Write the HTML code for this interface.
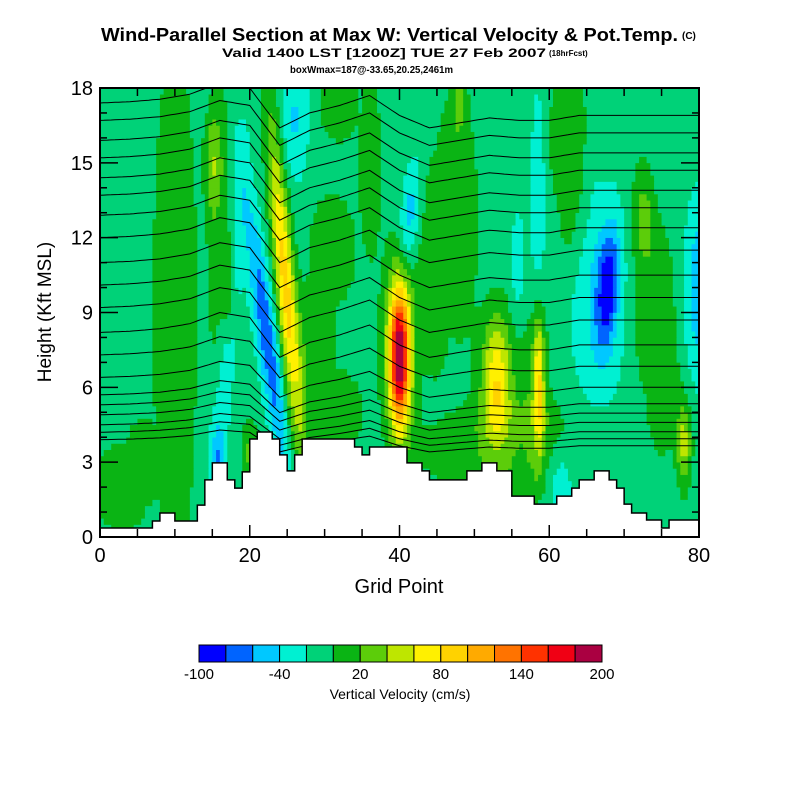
<!DOCTYPE html>
<html><head><meta charset="utf-8"><style>
body{margin:0;background:#fff;width:800px;height:800px;overflow:hidden;font-family:"Liberation Sans",sans-serif}
svg{position:absolute;left:0;top:0}
</style></head><body>
<svg id="chart" width="800" height="800" viewBox="0 0 800 800">
<text x="101" y="41" font-size="18" font-weight="bold" textLength="577" lengthAdjust="spacingAndGlyphs">Wind-Parallel Section at Max W: Vertical Velocity &amp; Pot.Temp.</text>
<text x="682" y="39" font-size="10" font-weight="bold">(C)</text>
<text x="222" y="57" font-size="12" font-weight="bold" textLength="324" lengthAdjust="spacingAndGlyphs">Valid 1400 LST [1200Z] TUE 27 Feb 2007</text>
<text x="549" y="56" font-size="8" font-weight="bold">(18hrFcst)</text>
<text x="290" y="73" font-size="10" font-weight="bold" textLength="163" lengthAdjust="spacingAndGlyphs">boxWmax=187@-33.65,20.25,2461m</text>
<g id="field"></g>
<g id="contours" fill="none" stroke="#000" stroke-width="1"></g>
<path id="terrain" fill="#fff" stroke="#000" stroke-width="1.5"/>
<g id="ticks" stroke="#000" stroke-width="1.5"></g>
<rect x="100" y="88" width="599" height="449" fill="none" stroke="#000" stroke-width="2"/>
<g id="xlabels" font-size="20" text-anchor="middle"></g>
<g id="ylabels" font-size="20" text-anchor="end"></g>
<text x="399" y="593" text-anchor="middle" font-size="20">Grid Point</text>
<text transform="translate(51,312) rotate(-90)" text-anchor="middle" font-size="19">Height (Kft MSL)</text>
<g id="cbar"></g>
<g id="cblabels" font-size="15" text-anchor="middle"></g>
<text x="400" y="699" text-anchor="middle" font-size="14">Vertical Velocity (cm/s)</text>
</svg>
<script>
// ---- data ----
const binColors=["#0000ff","#0064ff","#00c8ff","#00f0d2","#00d278","#0ab414","#5ccd0a","#bee600","#fff000","#ffd200","#ffaa00","#ff7300","#ff3200","#f00014","#aa0041"];
const binMin=-100, binStep=20;
const cbTicks=[-100,-40,20,80,140,200];
const xTicks=[0,20,40,60,80];
const yTicks=[0,3,6,9,12,15,18];
const baseW=-10;
// updraft-band background (flat-topped, combined by max): centers, widths
const gx =[10,3,16,31,32,31,47.5,55,62.5,74,36,45,63,75,29,6];
const gy =[9,2,12,11.5,17.5,5,13,3.5,16,9,15,11,14,7,8,3];
const gsx=[3.2,4,1.8,3.5,3,4.5,3.2,13,2.8,3.2,1.6,2.5,2.2,2.6,3,3];
const gsy=[12,2,7,2.5,1.8,2,5.5,2.2,3.5,4,4,5,3.5,4,3,2];
const gamp=20;
// velocity features (cm/s): centers (grid pt, kft), widths, tilt, amplitude
const bx  =[15,17.2,17,15.8,22.3,24.8,26,20,40,40,41.3,53,53,58.6,58.3,61.5,58.5,55.8,67.8,66.5,72.5,80,78,48];
const by  =[15,10,8,3,8,10,16.8,3.3,7.2,8,12.8,6.3,6,6.2,6,2.3,13.5,11,10,9.5,13,10,3.8,17.5];
const bsx =[1.2,0.9,1.3,0.9,1.4,1.3,1.8,1,1.4,2.6,1.3,1.8,3,0.7,1.8,2,1.0,1.0,1.4,3.5,1.5,1.8,1,0.8];
const bsy =[2,1.8,7,1.5,5.5,6.5,2.5,1.4,2.8,4.2,2.2,2.4,3.2,2.6,3.2,1.6,4.5,2,2.4,4.5,2,3.5,1.7,1.2];
const btilt=[0,0,0.26,0,-0.45,-0.28,0,0,0,0,0.3,0,0,0,0,0,0,0,0.2,0,0,0,0,0];
const bamp=[35,35,-30,-35,-66,100,-32,35,190,30,-42,65,25,70,28,-32,-25,-25,-68,-30,35,-45,60,35];
// terrain height (kft) for each grid segment i..i+1
const terrain=[0.36,0.36,0.36,0.36,0.36,0.36,0.36,0.64,0.96,0.96,0.64,0.64,0.64,1.28,2.29,2.97,2.97,2.29,1.96,2.61,3.93,4.21,4.21,3.93,3.29,2.65,3.29,3.93,3.93,3.93,3.93,3.93,3.93,3.93,3.61,3.29,3.61,3.61,3.61,3.61,3.61,2.97,2.97,2.65,2.29,2.29,2.29,2.29,2.29,2.65,2.65,2.97,2.97,2.65,2.65,1.64,1.64,1.64,1.32,1.32,1.32,1.64,1.64,1.96,2.29,2.29,2.65,2.65,2.29,1.96,1.32,0.96,0.96,0.68,0.68,0.36,0.68,0.68,0.68,0.68];
// isentrope levels (kft at left edge) and displacement profile (kft, every 4 grid pts)
const thetaLevels=[17.4,16.7,15.9,15.2,14.4,13.7,12.9,12.0,11.0,10.1,9.2,8.2,7.3,6.4,5.7,5.3,4.9,4.5,4.2,3.9];
const dispGrid=[0,4,8,12,16,20,24,28,32,36,40,44,48,52,56,60,64,68,72,76,80];
const dispVal=[0,0.05,0.15,0.35,0.8,0.6,-1.0,-0.4,-0.1,0.3,-0.5,-1.0,-0.8,-0.6,-0.7,-0.7,-0.5,-0.5,-0.5,-0.5,-0.5];

// ---- axes ----
const X=g=>100+g*599/80, Y=k=>537-k*449/18;
const NS="http://www.w3.org/2000/svg";
function mk(tag,parent){const e=document.createElementNS(NS,tag);parent.appendChild(e);return e;}

function wAt(g,k){
  let m=0;for(let i=0;i<gx.length;i++){const dx=(g-gx[i])/gsx[i],dy=(k-gy[i])/gsy[i];const r2=dx*dx+dy*dy;m=Math.max(m,Math.exp(-r2*r2));}
  let v=baseW+gamp*m;
  for(let i=0;i<bx.length;i++){const dx=(g-bx[i]-btilt[i]*(k-by[i]))/bsx[i],dy=(k-by[i])/bsy[i];v+=bamp[i]*Math.exp(-(dx*dx+dy*dy));}
  return v;}
function colorOf(v){let b=Math.floor((v-binMin)/binStep);b=Math.max(0,Math.min(binColors.length-1,b));return binColors[b];}

const field=document.getElementById('field');
const dg=0.5, dk=0.25;
for(let k=0;k<18;k+=dk){
  let runStart=0,runCol=null;
  for(let g=0;g<=80;g+=dg){
    const c=g<80?colorOf(wAt(g+dg/2,k+dk/2)):null;
    if(c!==runCol){
      if(runCol){const r=mk('rect',field);
        
        
        r.setAttribute('x',X(runStart));r.setAttribute('width',X(g)-X(runStart)+0.4);
        r.setAttribute('y',Y(k+dk)-0.3);r.setAttribute('height',Y(k)-Y(k+dk)+0.6);r.setAttribute('fill',runCol);}
      runStart=g;runCol=c;}
  }
}
// contours
function disp(g){for(let i=0;i<dispGrid.length-1;i++){if(g<=dispGrid[i+1]){const t=(g-dispGrid[i])/(dispGrid[i+1]-dispGrid[i]);return dispVal[i]+t*(dispVal[i+1]-dispVal[i]);}}return dispVal[dispVal.length-1];}
const cg=document.getElementById('contours');
thetaLevels.forEach((lv)=>{
  let d='';const amp=Math.min(1,lv/8);
  for(let g=0;g<=80;g+=0.5){const h=lv+disp(g)*amp;d+=(g?'L':'M')+X(g).toFixed(1)+' '+Y(Math.min(18,h)).toFixed(1);}
  const p=mk('path',cg);
  
  
  p.setAttribute('d',d);
});
// terrain
let td='M'+X(0)+' '+Y(0)+' L'+X(0)+' '+Y(terrain[0]);
for(let i=0;i<terrain.length;i++){td+=' L'+X(i+1)+' '+Y(terrain[i]);if(i+1<terrain.length)td+=' L'+X(i+1)+' '+Y(terrain[i+1]);}
td+=' L'+X(80)+' '+Y(0)+'Z';
document.getElementById('terrain').setAttribute('d',td);
// ticks
const tk=document.getElementById('ticks');
function line(x1,y1,x2,y2,n){const l=mk('line',tk);l.setAttribute('x1',x1);l.setAttribute('y1',y1);l.setAttribute('x2',x2);l.setAttribute('y2',y2);}
for(let g=0;g<=80;g+=5){const L=g%20===0?12:8;line(X(g),537,X(g),537-L,'x-tick');line(X(g),88,X(g),88+L,'x-tick-top');}
for(let k=0;k<=18;k+=1){const L=k%3===0?18:7;line(100,Y(k),100+L,Y(k),'y-tick');line(699,Y(k),699-L,Y(k),'y-tick-right');}
const xl=document.getElementById('xlabels');
xTicks.forEach(v=>{const t=mk('text',xl);t.setAttribute('x',X(v));t.setAttribute('y',562);t.textContent=v;});
const yl=document.getElementById('ylabels');
yTicks.forEach(v=>{const t=mk('text',yl);t.setAttribute('x',93);t.setAttribute('y',Y(v)+7);t.textContent=v;});
// colorbar
const cb=document.getElementById('cbar');const cw=403/binColors.length;
binColors.forEach((c,i)=>{const r=mk('rect',cb);r.setAttribute('x',199+i*cw);r.setAttribute('y',645);r.setAttribute('width',cw);r.setAttribute('height',17);r.setAttribute('fill',c);r.setAttribute('stroke','#000');r.setAttribute('stroke-width','1');});
const cl=document.getElementById('cblabels');
cbTicks.forEach(v=>{const t=mk('text',cl);t.setAttribute('x',199+(v-binMin)/binStep*cw);t.setAttribute('y',679);t.textContent=v;});
</script>
</body></html>
